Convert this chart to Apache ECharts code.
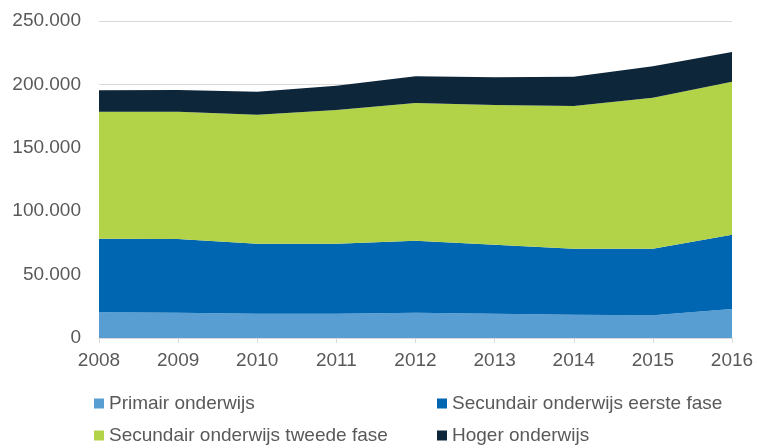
<!DOCTYPE html>
<html>
<head>
<meta charset="utf-8">
<script src="https://cdn.jsdelivr.net/npm/echarts@6/dist/echarts.min.js"></script>
<style>
  html, body { margin: 0; padding: 0; background: #fff; }
</style>
</head>
<body>
<div id="chart" style="width: 758px; height: 448px"></div>
<script>
const years = ['2008', '2009', '2010', '2011', '2012', '2013', '2014', '2015', '2016']
const primair = [20300, 20000, 19200, 19200, 20000, 19200, 18400, 17900, 22900]
const secundairEerste = [58000, 58100, 55200, 55200, 56700, 54400, 52000, 52500, 58600]
const secundairTweede = [100200, 100400, 101700, 105400, 108600, 110200, 112600, 119100, 120600]
const hoger = [16800, 17100, 18100, 19200, 21100, 21800, 23100, 24800, 23400]

const names = ['Primair onderwijs', 'Secundair onderwijs eerste fase', 'Secundair onderwijs tweede fase', 'Hoger onderwijs']
const colors = ['#589ed2', '#0066b1', '#b2d348', '#0d263a']

const chart = echarts.init(document.getElementById('chart'))

const font = 'Liberation Sans, Arial, sans-serif'
const textColor = '#595959'

// dot as thousands separator
const fmt = v => String(v).replace(/\B(?=(\d{3})+(?!\d))/g, '.')

const legendPos = [
  { left: 94, top: 394 },
  { left: 437, top: 394 },
  { left: 94, top: 426 },
  { left: 437, top: 426 }
]

const makeSeries = (name, data, color) => ({
  name,
  type: 'line',
  stack: 'total',
  data,
  symbol: 'none',
  lineStyle: { width: 0 },
  areaStyle: { color, opacity: 1 },
  itemStyle: { color },
  emphasis: { disabled: true }
})

chart.setOption({
  animation: false,
  color: colors,
  grid: { left: 99, right: 26, top: 21, bottom: 110, containLabel: false },
  legend: legendPos.map((p, i) => ({
    data: [names[i]],
    left: p.left,
    top: p.top,
    padding: 0,
    itemWidth: 10,
    itemHeight: 10,
    itemGap: 5,
    icon: 'rect',
    selectedMode: false,
    textStyle: { color: textColor, fontSize: 19, fontFamily: font }
  })),
  xAxis: {
    type: 'category',
    data: years,
    boundaryGap: false,
    axisLine: { lineStyle: { color: '#d9d9d9', width: 1 } },
    axisTick: { show: true, length: 5, lineStyle: { color: '#d9d9d9' } },
    axisLabel: { color: textColor, fontSize: 19, fontFamily: font, margin: 13 }
  },
  yAxis: {
    type: 'value',
    min: 0,
    max: 250000,
    interval: 50000,
    axisLine: { show: false },
    axisTick: { show: false },
    splitLine: { lineStyle: { color: '#d9d9d9', width: 1 } },
    axisLabel: { color: textColor, fontSize: 19, fontFamily: font, margin: 18, formatter: fmt }
  },
  series: [
    makeSeries(names[0], primair, colors[0]),
    makeSeries(names[1], secundairEerste, colors[1]),
    makeSeries(names[2], secundairTweede, colors[2]),
    makeSeries(names[3], hoger, colors[3])
  ]
})
</script>
</body>
</html>
